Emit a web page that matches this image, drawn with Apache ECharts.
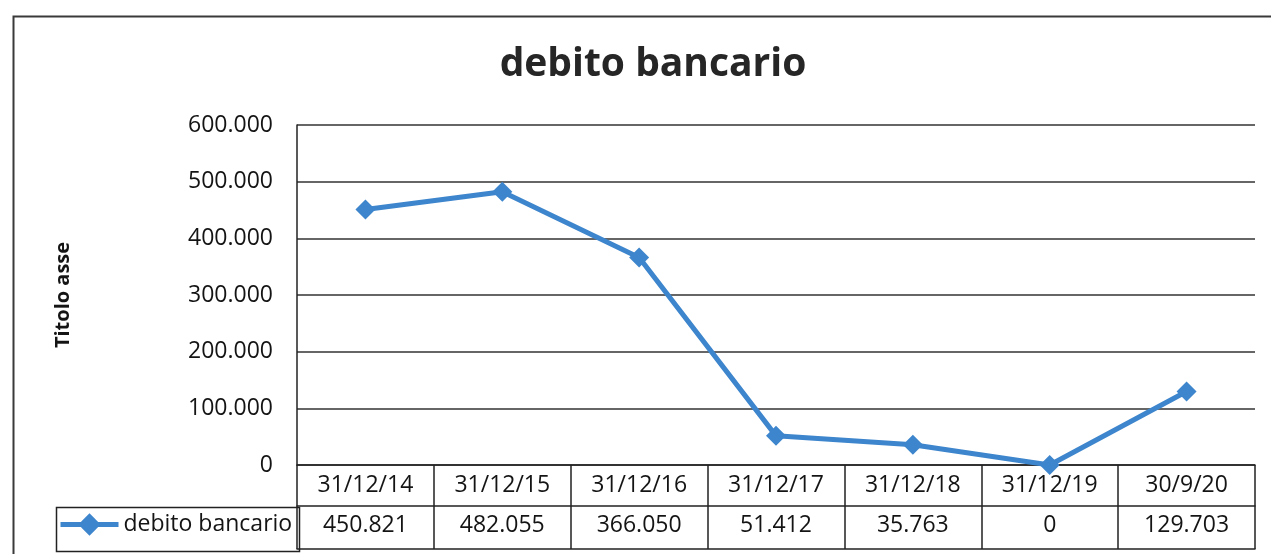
<!DOCTYPE html>
<html>
<head>
<meta charset="utf-8">
<script src="https://cdn.jsdelivr.net/npm/echarts@6/dist/echarts.min.js"></script>
<style>html,body{margin:0;padding:0;background:#fff}#c{width:1271px;height:554px}</style>
</head>
<body>
<div id="c"></div>
<script>
const categories = ['31/12/14','31/12/15','31/12/16','31/12/17','31/12/18','31/12/19','30/9/20'];
const values = [450821, 482055, 366050, 51412, 35763, 0, 129703];
const seriesName = 'debito bancario';
const titleText = 'debito bancario';
const yAxisTitle = 'Titolo asse';

function fmt(v){ return String(Math.round(v)).replace(/\B(?=(\d{3})+(?!\d))/g, '.'); }

const FONT = '"Open Sans", "Liberation Sans", sans-serif';
const TXT = '#141414';
const LINE = '#3d85cc';

const chart = echarts.init(document.getElementById('c'), null, {renderer:'canvas'});
chart.setOption({
  animation:false,
  backgroundColor:'#fff',
  title:{text:titleText, left:648, textAlign:'center', top:40,
    textStyle:{fontFamily:FONT, fontSize:39, fontWeight:'bold', color:'#262626'}},
  grid:{left:297, right:16, top:125, bottom:89, containLabel:false},
  legend:{left:58, top:513, padding:0, itemWidth:58, itemHeight:28, itemGap:4,
    lineStyle:{width:5},
    textStyle:{fontFamily:FONT, fontSize:23, color:TXT}, data:[seriesName]},
  xAxis:[
    {type:'category', data:categories, boundaryGap:true, position:'bottom',
     axisLine:{show:true, lineStyle:{color:'#222', width:1.5}},
     axisTick:{show:true, inside:false, length:84, lineStyle:{color:'#222', width:1.5}},
     axisLabel:{fontFamily:FONT, fontSize:23, color:TXT, margin:9}},
    {type:'category', data:values.map(fmt), boundaryGap:true, position:'bottom', offset:41,
     axisLine:{show:true, lineStyle:{color:'#222', width:1.5}},
     axisTick:{show:false},
     axisLabel:{fontFamily:FONT, fontSize:23, color:TXT, margin:8}},
    {type:'category', data:categories, boundaryGap:true, position:'bottom', offset:84,
     axisLine:{show:true, lineStyle:{color:'#222', width:1.5}},
     axisTick:{show:false}, axisLabel:{show:false}}
  ],
  yAxis:{type:'value', min:0, max:600000, interval:100000,
    name:yAxisTitle, nameLocation:'middle', nameRotate:90, nameGap:224,
    nameTextStyle:{fontFamily:FONT, fontSize:20, fontWeight:'bold', color:TXT},
    axisLine:{show:true, lineStyle:{color:'#222', width:1.5}},
    axisTick:{show:false},
    axisLabel:{fontFamily:FONT, fontSize:23, color:TXT, margin:24, formatter:fmt},
    splitLine:{show:true, lineStyle:{color:'#333', width:1.5}}},
  series:[{name:seriesName, type:'line', data:values, xAxisIndex:0,
    symbol:'diamond', symbolSize:20, color:LINE,
    lineStyle:{color:LINE, width:5}, itemStyle:{color:LINE}}],
  graphic:[
    {type:'rect', left:11, top:14, shape:{width:1300, height:600}, silent:true,
     style:{fill:'none', stroke:'#3a3a3a', lineWidth:2}},
    {type:'rect', left:54, top:505, shape:{width:243, height:44}, silent:true,
     style:{fill:'none', stroke:'#222', lineWidth:1.5}}
  ]
});
</script>
</body>
</html>
